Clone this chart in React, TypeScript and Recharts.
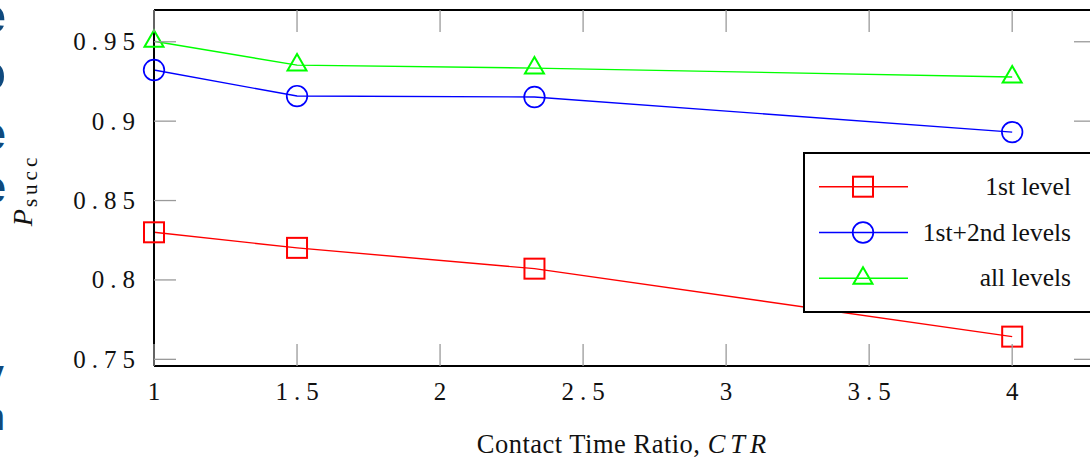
import React from 'react';
import { LineChart, Line, XAxis, YAxis, Legend, ReferenceLine } from 'recharts';

// ---- data ----
const CTR = [1, 1.5, 2.33, 4];
const LEVEL1 = [0.83, 0.8202, 0.8071, 0.7643];
const LEVEL12 = [0.9322, 0.9158, 0.9152, 0.8931];
const ALL_LEVELS = [0.9503, 0.9353, 0.9334, 0.9278];
const SERIES_NAMES = ['1st level', '1st+2nd levels', 'all levels'];
const X_TICKS = [1, 1.5, 2, 2.5, 3, 3.5, 4];
const X_TICK_LABELS = ['1', '1.5', '2', '2.5', '3', '3.5', '4'];
const Y_TICKS = [0.75, 0.8, 0.85, 0.9, 0.95];
const Y_TICK_LABELS = ['0.75', '0.8', '0.85', '0.9', '0.95'];
const X_DOMAIN: [number, number] = [1, 4.293];
const Y_DOMAIN: [number, number] = [0.7458, 0.97];
const SIDE_LETTERS = ['e', 'o', 'e', 'e', 'y', 'n'];

const data = CTR.map((c, i) => ({ ctr: c, l1: LEVEL1[i], l12: LEVEL12[i], all: ALL_LEVELS[i] }));

// ---- layout ----
const CHART_W = 1110;
const CHART_H = 458;
const MARGIN = { top: 10, right: 14, bottom: 0, left: 0 };
const Y_AXIS_W = 154;
const X_AXIS_H = 92;
const PLOT_LEFT = MARGIN.left + Y_AXIS_W;
const PLOT_RIGHT = CHART_W - MARGIN.right;
const PLOT_TOP = MARGIN.top;
const TICK_LEN = 22;
const SERIF = 'Liberation Serif';
const TXT = { fontFamily: SERIF };
const TICK_COLOR = '#9a9a9a';

const RED = '#ff0000';
const BLUE = '#0000ff';
const GREEN = '#00ff00';

const SquareMarker = ({ cx, cy, color }: any) => (
  <rect x={cx - 10} y={cy - 10} width={20} height={20} fill="none" stroke={color} strokeWidth={2} />
);
const CircleMarker = ({ cx, cy, color }: any) => (
  <circle cx={cx} cy={cy} r={10.3} fill="none" stroke={color} strokeWidth={1.7} />
);
const TriangleMarker = ({ cx, cy, color }: any) => (
  <polygon
    points={`${cx},${cy - 11} ${cx - 9.5},${cy + 5.5} ${cx + 9.5},${cy + 5.5}`}
    fill="none"
    stroke={color}
    strokeWidth={2}
  />
);

const SERIES = [
  { key: 'l1', name: SERIES_NAMES[0], color: RED, Marker: SquareMarker },
  { key: 'l12', name: SERIES_NAMES[1], color: BLUE, Marker: CircleMarker },
  { key: 'all', name: SERIES_NAMES[2], color: GREEN, Marker: TriangleMarker },
];

const makeDot = (Marker: any, color: string) => (props: any) => {
  const { cx, cy, index } = props;
  if (cx == null || cy == null) return <g key={`d-${index}`} />;
  return (
    <g key={`d-${index}`}>
      <Marker cx={cx} cy={cy} color={color} />
    </g>
  );
};

const YTick = (props: any) => {
  const { x, y, payload } = props;
  const idx = Y_TICKS.indexOf(payload.value);
  const label = idx >= 0 ? Y_TICK_LABELS[idx] : String(payload.value);
  return (
    <g>
      <line x1={x} x2={x + TICK_LEN} y1={y} y2={y} stroke={TICK_COLOR} strokeWidth={1.3} />
      <line x1={PLOT_RIGHT - TICK_LEN} x2={PLOT_RIGHT} y1={y} y2={y} stroke={TICK_COLOR} strokeWidth={1.3} />
      <text
        x={x - 19 + 6}
        y={y + 8.5}
        textAnchor="end"
        fontSize={25}
        letterSpacing={6}
        fill="#111"
        style={TXT}
      >
        {label}
      </text>
    </g>
  );
};

const XTick = (props: any) => {
  const { x, y, payload } = props;
  const idx = X_TICKS.indexOf(payload.value);
  const label = idx >= 0 ? X_TICK_LABELS[idx] : String(payload.value);
  return (
    <g>
      <line x1={x} x2={x} y1={y} y2={y - TICK_LEN} stroke={TICK_COLOR} strokeWidth={1.3} />
      <line x1={x} x2={x} y1={PLOT_TOP} y2={PLOT_TOP + TICK_LEN} stroke={TICK_COLOR} strokeWidth={1.3} />
      <text
        x={x + 3}
        y={y + 34}
        textAnchor="middle"
        fontSize={25}
        letterSpacing={6}
        fill="#111"
        style={TXT}
      >
        {label}
      </text>
    </g>
  );
};

const XLabel = (props: any) => {
  const vb = props.viewBox || { x: PLOT_LEFT, y: 366, width: PLOT_RIGHT - PLOT_LEFT, height: X_AXIS_H };
  return (
    <text
      x={vb.x + vb.width / 2 - 1}
      y={vb.y + 87}
      textAnchor="middle"
      fontSize={26.5}
      letterSpacing={0.5}
      fill="#111"
      style={TXT}
    >
      Contact Time Ratio,{' '}
      <tspan fontStyle="italic" letterSpacing={5}>
        CTR
      </tspan>
    </text>
  );
};

const YLabel = (props: any) => {
  const vb = props.viewBox || { x: 0, y: PLOT_TOP, width: Y_AXIS_W, height: 356 };
  const cy = vb.y + vb.height / 2 + 2;
  return (
    <text transform="rotate(-90)" x={-cy} y={32} textAnchor="middle" fill="#111" style={TXT}>
      <tspan fontStyle="italic" fontSize={28}>
        P
      </tspan>
      <tspan fontSize={21} dy={5} dx={2} letterSpacing={4}>
        succ
      </tspan>
    </text>
  );
};

const LegendBox = () => (
  <div
    style={{
      width: 300,
      height: 161,
      border: '2px solid #000',
      boxSizing: 'border-box',
      background: '#fff',
    }}
  >
    <svg width={296} height={157} style={{ display: 'block' }}>
      {SERIES.map((s, i) => {
        const cy = 32.7 + i * 45.8;
        const M = s.Marker;
        return (
          <g key={s.key}>
            <line x1={14} x2={103} y1={cy} y2={cy} stroke={s.color} strokeWidth={1.5} />
            <M cx={58} cy={cy} color={s.color} />
            <text x={266} y={cy + 8} textAnchor="end" fontSize={25.5} fill="#111" style={TXT}>
              {s.name}
            </text>
          </g>
        );
      })}
    </svg>
  </div>
);

const SIDE_POS = [
  { y: 33, size: 50, end: 6 },
  { y: 90, size: 52, end: 6 },
  { y: 150, size: 48, end: 6 },
  { y: 203, size: 46, end: 6 },
  { y: 388, size: 40, end: 4 },
  { y: 430, size: 38, end: 5 },
];

export default function App() {
  return (
    <div
      style={{
        position: 'absolute',
        left: 0,
        top: 0,
        width: 1090,
        height: 458,
        overflow: 'hidden',
        background: '#fff',
      }}
    >
      <svg width={20} height={458} style={{ position: 'absolute', left: 0, top: 0 }}>
        {SIDE_LETTERS.map((ch, i) => (
          <text
            key={i}
            x={SIDE_POS[i].end}
            y={SIDE_POS[i].y}
            textAnchor="end"
            fontSize={SIDE_POS[i].size}
            fontWeight="bold"
            style={{ fontFamily: 'Liberation Sans' }}
            fill="#0f4a7e"
          >
            {ch}
          </text>
        ))}
      </svg>
      <div style={{ position: 'absolute', left: 0, top: 0 }}>
        <LineChart width={CHART_W} height={CHART_H} data={data} margin={MARGIN} style={{ fontFamily: SERIF }}>
          <XAxis
            dataKey="ctr"
            type="number"
            domain={X_DOMAIN}
            ticks={X_TICKS}
            height={X_AXIS_H}
            tickSize={0}
            tickMargin={0}
            tickLine={false}
            axisLine={{ stroke: '#000', strokeWidth: 2 }}
            tick={<XTick />}
            interval={0}
            label={<XLabel />}
          />
          <YAxis
            type="number"
            domain={Y_DOMAIN}
            ticks={Y_TICKS}
            width={Y_AXIS_W}
            tickSize={0}
            tickMargin={0}
            tickLine={false}
            axisLine={{ stroke: '#000', strokeWidth: 2 }}
            tick={<YTick />}
            interval={0}
            label={<YLabel />}
          />
          <ReferenceLine y={Y_DOMAIN[1]} stroke="#000" strokeWidth={2} />
          <ReferenceLine x={X_DOMAIN[1]} stroke="#000" strokeWidth={2} />
          {SERIES.map((s) => (
            <Line
              key={s.key}
              type="linear"
              dataKey={s.key}
              name={s.name}
              stroke={s.color}
              strokeWidth={1.4}
              dot={makeDot(s.Marker, s.color)}
              activeDot={false}
              isAnimationActive={false}
            />
          ))}
          <Legend
            layout="vertical"
            align="center"
            verticalAlign="middle"
            content={<LegendBox />}
            wrapperStyle={{ position: 'absolute', left: 803, top: 152, width: 300, height: 161, margin: 0 }}
          />
        </LineChart>
      </div>
    </div>
  );
}
